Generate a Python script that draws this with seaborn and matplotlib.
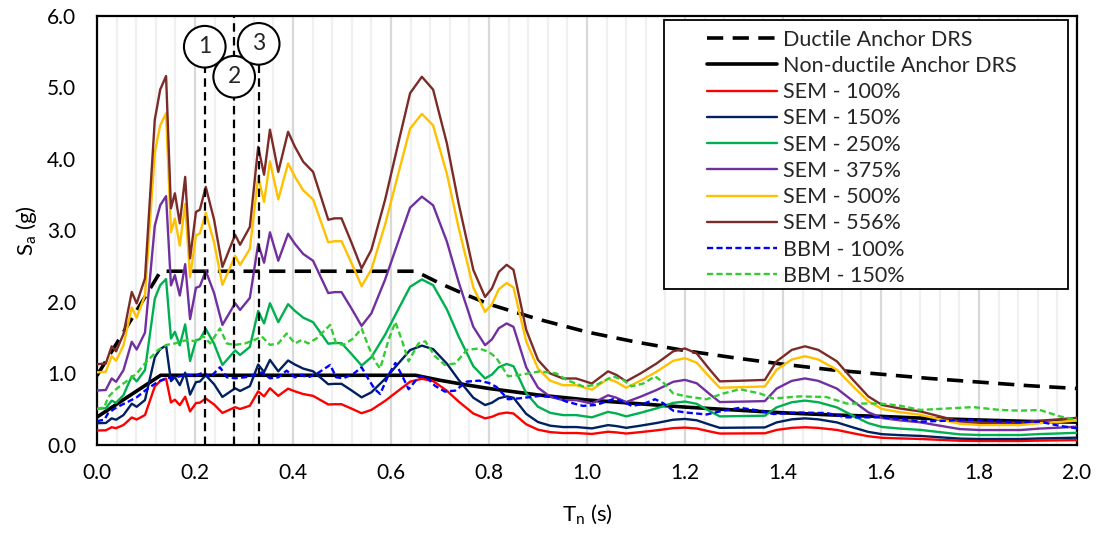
import numpy as np
import pandas as pd
import matplotlib
matplotlib.use("Agg")
import matplotlib.pyplot as plt
from matplotlib.patches import Rectangle
from matplotlib.ticker import MultipleLocator, FormatStrFormatter
import seaborn as sns

# ---------------------------------------------------------------- data
# Design response spectra (period in s, spectral acceleration in g)
t_drs = [0.00, 0.13, 0.65, 0.70, 0.75, 0.80, 0.90, 1.00, 1.10, 1.20,
         1.30, 1.40, 1.50, 1.60, 1.70, 1.80, 1.90, 2.00]
ductile_drs = [0.97, 2.43, 2.43, 2.26, 2.11, 1.97, 1.76, 1.58, 1.44, 1.32,
               1.22, 1.13, 1.05, 0.99, 0.93, 0.88, 0.83, 0.79]
nonductile_drs = [0.39, 0.975, 0.975, 0.905, 0.845, 0.79, 0.70, 0.63, 0.58, 0.53,
                  0.49, 0.45, 0.42, 0.40, 0.37, 0.35, 0.33, 0.32]

# SEM record response spectrum at the 556 % scale
t_sem = [0.000, 0.018, 0.030, 0.039, 0.054, 0.071, 0.081, 0.098, 0.118, 0.129,
         0.141, 0.151, 0.159, 0.169, 0.180, 0.190, 0.202, 0.210, 0.222, 0.239,
         0.256, 0.282, 0.292, 0.312, 0.329, 0.341, 0.353, 0.370, 0.390, 0.404,
         0.421, 0.441, 0.472, 0.485, 0.499, 0.520, 0.540, 0.560, 0.588, 0.618,
         0.639, 0.663, 0.686, 0.714, 0.738, 0.768, 0.792, 0.806, 0.820, 0.836,
         0.850, 0.876, 0.900, 0.925, 0.951, 0.978, 1.010, 1.043, 1.060, 1.080,
         1.109, 1.142, 1.176, 1.200, 1.224, 1.251, 1.271, 1.319, 1.363, 1.387,
         1.418, 1.445, 1.472, 1.510, 1.543, 1.574, 1.602, 1.639, 1.680, 1.720,
         1.761, 1.802, 1.843, 1.884, 1.924, 1.965, 2.000]
sem_556 = [1.13, 1.14, 1.38, 1.31, 1.55, 2.14, 1.98, 2.33, 4.55, 4.97,
           5.16, 3.31, 3.52, 3.10, 3.75, 2.61, 3.26, 3.29, 3.61, 3.15,
           2.49, 2.94, 2.80, 3.05, 4.17, 3.78, 4.41, 3.82, 4.38, 4.17,
           3.96, 3.82, 3.15, 3.17, 3.17, 2.82, 2.47, 2.73, 3.43, 4.31,
           4.92, 5.15, 4.97, 4.22, 3.38, 2.45, 2.07, 2.19, 2.42, 2.52,
           2.45, 1.61, 1.19, 1.00, 0.93, 0.93, 0.86, 1.03, 0.98, 0.89,
           1.00, 1.14, 1.31, 1.35, 1.28, 1.05, 0.89, 0.90, 0.91, 1.17,
           1.33, 1.38, 1.33, 1.17, 0.91, 0.68, 0.56, 0.51, 0.47, 0.40,
           0.33, 0.31, 0.31, 0.31, 0.34, 0.36, 0.38]
sem_scales = [100, 150, 250, 375, 500, 556]
sem_colors = ["#FF0000", "#002060", "#00B050", "#7030A0", "#FFC000", "#7B2C28"]

# BBM record response spectrum at the 150 % scale
t_bbm = [0.000, 0.015, 0.023, 0.037, 0.050, 0.064, 0.081, 0.098, 0.112, 0.125,
         0.142, 0.159, 0.173, 0.186, 0.200, 0.217, 0.231, 0.251, 0.265, 0.282,
         0.302, 0.322, 0.336, 0.353, 0.370, 0.387, 0.404, 0.418, 0.431, 0.448,
         0.476, 0.488, 0.503, 0.523, 0.540, 0.554, 0.567, 0.578, 0.595, 0.609,
         0.622, 0.636, 0.656, 0.670, 0.690, 0.710, 0.731, 0.755, 0.780, 0.800,
         0.815, 0.839, 0.863, 0.904, 0.938, 0.958, 0.992, 1.019, 1.053, 1.074,
         1.091, 1.115, 1.139, 1.155, 1.176, 1.203, 1.244, 1.278, 1.312, 1.353,
         1.380, 1.435, 1.489, 1.530, 1.571, 1.598, 1.639, 1.680, 1.734, 1.788,
         1.843, 1.884, 1.924, 1.965, 2.000]
bbm_150 = [0.50, 0.53, 0.67, 0.77, 0.84, 0.91, 1.00, 1.14, 1.24, 1.33,
           1.40, 1.42, 1.45, 1.47, 1.45, 1.52, 1.42, 1.63, 1.42, 1.40,
           1.42, 1.47, 1.52, 1.40, 1.42, 1.56, 1.42, 1.47, 1.42, 1.49,
           1.68, 1.42, 1.40, 1.49, 1.63, 1.38, 1.17, 1.07, 1.47, 1.72,
           1.47, 1.17, 1.42, 1.45, 1.24, 1.12, 1.14, 1.33, 1.35, 1.30,
           1.22, 0.96, 0.98, 1.03, 1.00, 0.91, 0.82, 0.84, 0.96, 0.91,
           0.82, 0.86, 0.96, 0.88, 0.72, 0.68, 0.64, 0.72, 0.78, 0.72,
           0.65, 0.68, 0.67, 0.58, 0.58, 0.58, 0.55, 0.49, 0.51, 0.53,
           0.49, 0.48, 0.49, 0.40, 0.35]
bbm_scales = [100, 150]
bbm_colors = ["#0000FF", "#33CC33"]

# Periods of interest marked on the chart
marked_periods = [0.22, 0.28, 0.33]
marked_labels = ["1", "2", "3"]

# ---------------------------------------------------------------- style
sns.set_theme(style="white")
plt.rcParams["font.family"] = ["Lato", "DejaVu Sans"]
plt.rcParams["mathtext.default"] = "regular"

fig = plt.figure(figsize=(11.02, 5.36), dpi=100)
ax = fig.add_axes([0.0880, 0.1698, 0.8893, 0.8004])

# ---------------------------------------------------------------- curves
sns.lineplot(x=t_drs, y=ductile_drs, ax=ax, color="black", linewidth=2.6,
             linestyle=(0, (4.5, 2.6)), label="Ductile Anchor DRS",
             sort=False, estimator=None, zorder=3)
sns.lineplot(x=t_drs, y=nonductile_drs, ax=ax, color="black", linewidth=2.6,
             label="Non-ductile Anchor DRS", sort=False, estimator=None, zorder=3)

sem_arr = np.asarray(sem_556)
for pct, col in zip(sem_scales, sem_colors):
    sns.lineplot(x=t_sem, y=sem_arr * pct / 556.0, ax=ax, color=col,
                 linewidth=1.7, label=f"SEM - {pct}%", sort=False,
                 estimator=None, zorder=3)

bbm_arr = np.asarray(bbm_150)
for pct, col in zip(bbm_scales, bbm_colors):
    sns.lineplot(x=t_bbm, y=bbm_arr * pct / 150.0, ax=ax, color=col,
                 linewidth=1.7, linestyle=(0, (2.6, 1.4)),
                 label=f"BBM - {pct}%", sort=False, estimator=None, zorder=3)

# marked periods with numbered circles
line_tops = [5.57, 6.0, 5.61]
circle_y = [5.57, 5.15, 5.61]
ax.vlines(marked_periods, 0, line_tops, colors="black", linewidth=1.6,
          linestyles=[(0, (3.8, 2.4))], zorder=4)
for tp, cy, lab in zip(marked_periods, circle_y, marked_labels):
    ax.text(tp, cy, lab, ha="center", va="center", fontsize=16.5, zorder=6,
            bbox=dict(boxstyle="circle,pad=0.45", fc="white", ec="black", lw=1.5))

# ---------------------------------------------------------------- axes
ax.set_xlim(0, 2.0)
ax.set_ylim(0, 6.0)
ax.xaxis.set_major_locator(MultipleLocator(0.2))
ax.xaxis.set_minor_locator(MultipleLocator(0.04))
ax.yaxis.set_major_locator(MultipleLocator(1.0))
ax.xaxis.set_major_formatter(FormatStrFormatter("%.1f"))
ax.yaxis.set_major_formatter(FormatStrFormatter("%.1f"))
ax.grid(which="major", axis="x", color="#D9D9D9", linewidth=1.6, zorder=0)
ax.grid(which="minor", axis="x", color="#F0F0F0", linewidth=1.6, zorder=0)
ax.grid(which="major", axis="y", visible=False)
ax.set_axisbelow(True)
ax.tick_params(axis="both", which="both", length=0, labelsize=15, colors="black")
ax.tick_params(axis="x", pad=13)
ax.tick_params(axis="y", pad=15)
for sp in ax.spines.values():
    sp.set_visible(True)
    sp.set_color("black")
    sp.set_linewidth(1.6)

ax.set_xlabel("T$_\\mathregular{n}$ (s)", fontsize=16, labelpad=14, color="black")
ax.set_ylabel("S$_\\mathregular{a}$ (g)", fontsize=16, labelpad=6, color="black")

# legend inside a white framed box
box = Rectangle((0.5786, 0.3636), 0.4122, 0.6270, transform=ax.transAxes,
                facecolor="white", edgecolor="black", linewidth=1.3, zorder=7)
ax.add_patch(box)
handles, labels = ax.get_legend_handles_labels()
leg = ax.legend(handles, labels, loc="upper left", bbox_to_anchor=(0.6224, 0.968),
                frameon=False, fontsize=15.5, handlelength=3.25, handletextpad=0.3,
                labelspacing=0.29, borderpad=0, borderaxespad=0)
leg.set_zorder(8)

fig.savefig("out.png", dpi=100)
